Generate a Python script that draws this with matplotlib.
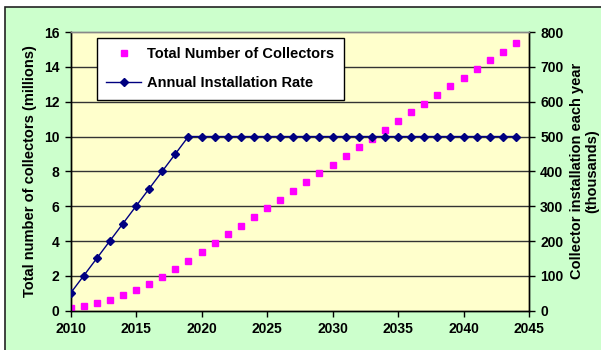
import matplotlib.pyplot as plt
from matplotlib.patches import Rectangle

plt.rcParams['font.family'] = ['Liberation Sans', 'DejaVu Sans']
plt.rcParams['font.weight'] = 'bold'

years = list(range(2010, 2045))

# total collectors in service (millions)
total_collectors = [0.17, 0.28, 0.43, 0.63, 0.88, 1.18, 1.53, 1.93, 2.38, 2.88,
                    3.38, 3.88, 4.38, 4.88, 5.38, 5.88, 6.38, 6.88, 7.38, 7.88,
                    8.38, 8.88, 9.38, 9.88, 10.38, 10.88, 11.38, 11.88, 12.38, 12.88,
                    13.38, 13.88, 14.38, 14.88, 15.38]

# collectors installed per year (thousands)
annual_rate = [50, 100, 150, 200, 250, 300, 350, 400, 450, 500,
               500, 500, 500, 500, 500, 500, 500, 500, 500, 500,
               500, 500, 500, 500, 500, 500, 500, 500, 500, 500,
               500, 500, 500, 500, 500]

x_ticks = [2010, 2015, 2020, 2025, 2030, 2035, 2040, 2045]
left_ticks = [0, 2, 4, 6, 8, 10, 12, 14, 16]
right_ticks = [0, 100, 200, 300, 400, 500, 600, 700, 800]

fig = plt.figure(figsize=(6.01, 3.5), dpi=100)
fig.patch.set_facecolor('white')
fig.patches.append(Rectangle((4.5 / 601, -0.1), 1.2, 1.1 - 7.5 / 350, transform=fig.transFigure,
                             facecolor='#CCFFCC', edgecolor='#222222', linewidth=1.2,
                             zorder=-10))

ax = fig.add_axes([70.5 / 601, 1 - 310.7 / 350, 458.5 / 601, 278.7 / 350])
ax.set_facecolor('#FFFFCC')
ax2 = ax.twinx()
ax2.patch.set_visible(False)

for y in left_ticks[1:-1]:
    ax.axhline(y, color='#333333', linewidth=1.0, zorder=1)

sq, = ax.plot(years, total_collectors, linestyle='none', marker='s', markersize=5,
              color='#FF00FF', label='Total Number of Collectors', zorder=3)
ln, = ax2.plot(years, annual_rate, color='#000080', linewidth=1.0, marker='D',
               markersize=4.5, label='Annual Installation Rate', zorder=3)

ax.set_xlim(2010, 2045)
ax.set_ylim(0, 16)
ax2.set_ylim(0, 800)
ax.set_xticks(x_ticks)
ax.set_yticks(left_ticks)
ax2.set_yticks(right_ticks)

for a in (ax, ax2):
    a.tick_params(labelsize=10, length=4, width=1, color='black', pad=4)
    for s in a.spines.values():
        s.set_color('black')
        s.set_linewidth(1)
ax.spines['top'].set_color('#888888')
ax2.spines['top'].set_color('#888888')

ax.set_ylabel('Total number of collectors (millions)', fontsize=10.5, fontweight='bold',
              labelpad=5)
ax2.set_ylabel('Collector installation each year\n(thousands)', fontsize=10.5,
               fontweight='bold', labelpad=5, linespacing=1.1)

leg = ax2.legend(handles=[sq, ln], loc='upper left', bbox_to_anchor=(26.5 / 458.5, 1 - 6 / 278.7),
                 borderaxespad=0, fancybox=False, framealpha=1, edgecolor='black',
                 fontsize=10.5, handlelength=2.4, borderpad=0.65, labelspacing=1.0,
                 handletextpad=0.4)
leg.get_frame().set_linewidth(1)

fig.savefig('out.png', dpi=100)
